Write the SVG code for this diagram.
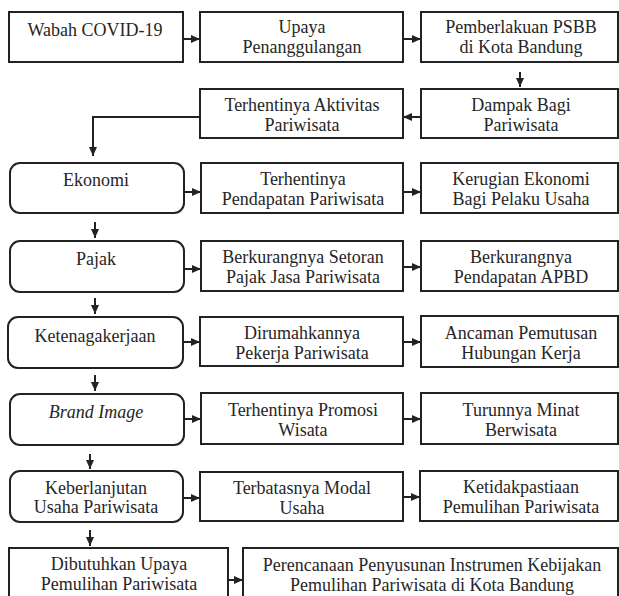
<svg xmlns="http://www.w3.org/2000/svg" width="619" height="596" viewBox="0 0 619 596">
<style>
.b{fill:#fff;stroke:#222;stroke-width:2}
.t{font-family:'Liberation Serif','DejaVu Serif',serif;font-size:18px;fill:#262626;text-anchor:middle}
.i{font-style:italic}
.c{fill:none;stroke:#222;stroke-width:2}
</style>
<defs>
<marker id="ah" markerUnits="userSpaceOnUse" markerWidth="9" markerHeight="8" refX="9" refY="4" orient="auto">
<path d="M0,0 L9,4 L0,8 z" fill="#222"/>
</marker>
</defs>
<rect width="619" height="596" fill="#fff"/>
<g id="connectors">
<line class="c" x1="183" y1="39" x2="200" y2="39" marker-end="url(#ah)"/>
<line class="c" x1="403" y1="39" x2="421" y2="39" marker-end="url(#ah)"/>
<line class="c" x1="520" y1="72" x2="520" y2="87" marker-end="url(#ah)"/>
<line class="c" x1="421" y1="117" x2="403" y2="117" marker-end="url(#ah)"/>
<polyline class="c" points="200,117 93,117 93,156" marker-end="url(#ah)"/>
<line class="c" x1="184" y1="192" x2="201" y2="192" marker-end="url(#ah)"/>
<line class="c" x1="403" y1="192" x2="421" y2="192" marker-end="url(#ah)"/>
<line class="c" x1="95" y1="222" x2="95" y2="238" marker-end="url(#ah)"/>
<line class="c" x1="184" y1="269" x2="201" y2="269" marker-end="url(#ah)"/>
<line class="c" x1="403" y1="267" x2="421" y2="267" marker-end="url(#ah)"/>
<line class="c" x1="95" y1="298" x2="95" y2="314" marker-end="url(#ah)"/>
<line class="c" x1="183" y1="342" x2="200" y2="342" marker-end="url(#ah)"/>
<line class="c" x1="403" y1="342" x2="421" y2="342" marker-end="url(#ah)"/>
<line class="c" x1="95" y1="375" x2="95" y2="391" marker-end="url(#ah)"/>
<line class="c" x1="184" y1="419" x2="201" y2="419" marker-end="url(#ah)"/>
<line class="c" x1="403" y1="419" x2="421" y2="419" marker-end="url(#ah)"/>
<line class="c" x1="90" y1="454" x2="90" y2="469" marker-end="url(#ah)"/>
<line class="c" x1="183" y1="498" x2="200" y2="498" marker-end="url(#ah)"/>
<line class="c" x1="403" y1="497" x2="420" y2="497" marker-end="url(#ah)"/>
<line class="c" x1="90" y1="530" x2="90" y2="546" marker-end="url(#ah)"/>
<line class="c" x1="228" y1="580" x2="243" y2="580" marker-end="url(#ah)"/>
</g>
<g id="n1"><rect class="b" x="9" y="12" width="174" height="50"/><text class="t" x="95" y="36">Wabah COVID-19</text></g>
<g id="n2"><rect class="b" x="200" y="12" width="203" height="50"/><text class="t" x="302" y="33">Upaya</text><text class="t" x="302" y="53">Penanggulangan</text></g>
<g id="n3"><rect class="b" x="421" y="12" width="197" height="50"/><text class="t" x="521" y="33">Pemberlakuan PSBB</text><text class="t" x="521" y="53">di Kota Bandung</text></g>
<g id="n4"><rect class="b" x="421" y="89" width="197" height="49"/><text class="t" x="521" y="111">Dampak Bagi</text><text class="t" x="521" y="131">Pariwisata</text></g>
<g id="n5"><rect class="b" x="200" y="89" width="203" height="49"/><text class="t" x="302" y="111">Terhentinya Aktivitas</text><text class="t" x="302" y="131">Pariwisata</text></g>
<g id="n6"><rect class="b" x="10" y="163" width="174" height="50" rx="10"/><text class="t" x="96" y="186">Ekonomi</text></g>
<g id="n7"><rect class="b" x="201" y="163" width="202" height="50"/><text class="t" x="303" y="185">Terhentinya</text><text class="t" x="303" y="205">Pendapatan Pariwisata</text></g>
<g id="n8"><rect class="b" x="421" y="163" width="197" height="50"/><text class="t" x="521" y="185">Kerugian Ekonomi</text><text class="t" x="521" y="205">Bagi Pelaku Usaha</text></g>
<g id="n9"><rect class="b" x="10" y="241" width="174" height="51" rx="10"/><text class="t" x="96" y="265">Pajak</text></g>
<g id="n10"><rect class="b" x="201" y="241" width="202" height="50"/><text class="t" x="303" y="263">Berkurangnya Setoran</text><text class="t" x="303" y="283">Pajak Jasa Pariwisata</text></g>
<g id="n11"><rect class="b" x="421" y="241" width="197" height="50"/><text class="t" x="521" y="263">Berkurangnya</text><text class="t" x="521" y="283">Pendapatan APBD</text></g>
<g id="n12"><rect class="b" x="8" y="317" width="175" height="51" rx="10"/><text class="t" x="95" y="342">Ketenagakerjaan</text></g>
<g id="n13"><rect class="b" x="200" y="317" width="203" height="49"/><text class="t" x="302" y="339">Dirumahkannya</text><text class="t" x="302" y="359">Pekerja Pariwisata</text></g>
<g id="n14"><rect class="b" x="421" y="316" width="197" height="51"/><text class="t" x="521" y="339">Ancaman Pemutusan</text><text class="t" x="521" y="359">Hubungan Kerja</text></g>
<g id="n15"><rect class="b" x="10" y="394" width="174" height="51" rx="10"/><text class="t i" x="96" y="418">Brand Image</text></g>
<g id="n16"><rect class="b" x="201" y="393" width="202" height="51"/><text class="t" x="303" y="416">Terhentinya Promosi</text><text class="t" x="303" y="436">Wisata</text></g>
<g id="n17"><rect class="b" x="421" y="393" width="197" height="51"/><text class="t" x="521" y="416">Turunnya Minat</text><text class="t" x="521" y="436">Berwisata</text></g>
<g id="n18"><rect class="b" x="10" y="471" width="173" height="51" rx="10"/><text class="t" x="96" y="494">Keberlanjutan</text><text class="t" x="96" y="513">Usaha Pariwisata</text></g>
<g id="n19"><rect class="b" x="200" y="472" width="203" height="49"/><text class="t" x="302" y="494">Terbatasnya Modal</text><text class="t" x="302" y="514">Usaha</text></g>
<g id="n20"><rect class="b" x="420" y="471" width="198" height="50"/><text class="t" x="521" y="493">Ketidakpastiaan</text><text class="t" x="521" y="513">Pemulihan Pariwisata</text></g>
<g id="n21"><rect class="b" x="9" y="548" width="219" height="60"/><text class="t" x="119" y="570">Dibutuhkan Upaya</text><text class="t" x="119" y="590">Pemulihan Pariwisata</text></g>
<g id="n22"><rect class="b" x="243" y="548" width="375" height="60"/><text class="t" x="432" y="571">Perencanaan Penyusunan Instrumen Kebijakan</text><text class="t" x="432" y="591">Pemulihan Pariwisata di Kota Bandung</text></g>
</svg>
